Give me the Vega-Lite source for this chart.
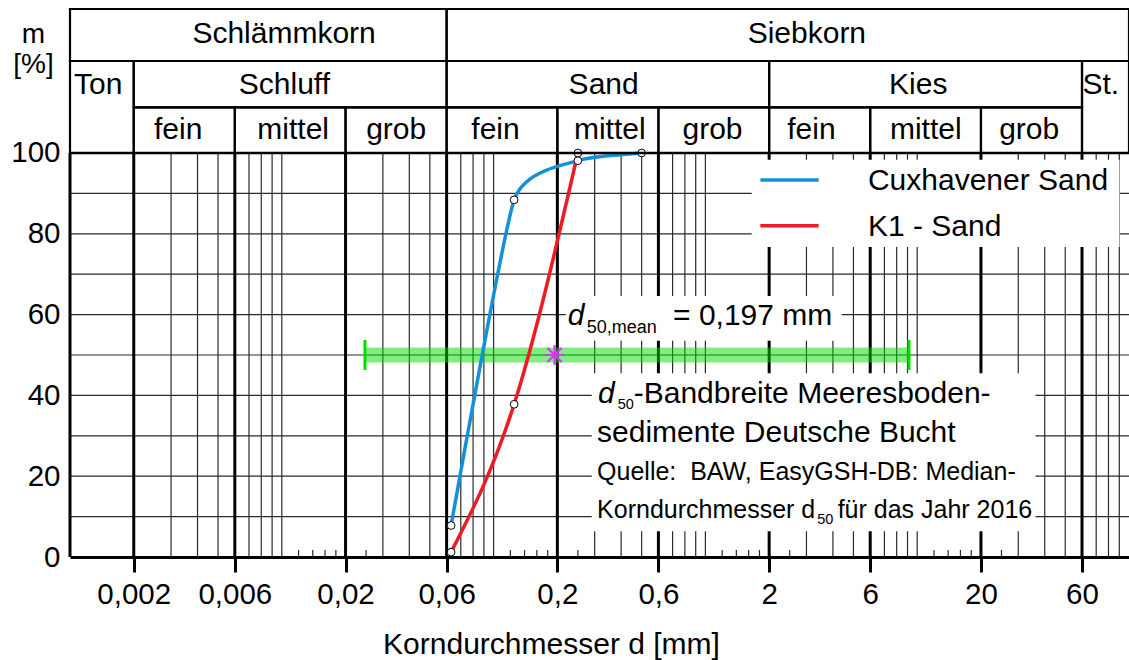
{
  "$schema": "https://vega.github.io/schema/vega-lite/v6.json",
  "width": 1059,
  "height": 548,
  "autosize": "none",
  "padding": {"left": 70, "top": 9, "right": 0, "bottom": 103},
  "background": "white",
  "config": {"view": {"stroke": null}, "font": "Liberation Sans"},
  "datasets": {
    "curves": [
      {"series": "Cuxhavener Sand", "d": 0.063, "m": 7.8},
      {"series": "Cuxhavener Sand", "d": 0.125, "m": 88.4},
      {"series": "Cuxhavener Sand", "d": 0.25, "m": 98.1},
      {"series": "Cuxhavener Sand", "d": 0.5, "m": 100},
      {"series": "K1 - Sand", "d": 0.063, "m": 1.2},
      {"series": "K1 - Sand", "d": 0.125, "m": 37.8},
      {"series": "K1 - Sand", "d": 0.25, "m": 100}
    ],
    "hgrid": [{"m": 10}, {"m": 20}, {"m": 30}, {"m": 40}, {"m": 50}, {"m": 60}, {"m": 70}, {"m": 80}, {"m": 90}],
    "vminor": [
      {"d": 0.003}, {"d": 0.004}, {"d": 0.005}, {"d": 0.007}, {"d": 0.008}, {"d": 0.009}, {"d": 0.01},
      {"d": 0.03}, {"d": 0.04}, {"d": 0.05}, {"d": 0.07}, {"d": 0.08}, {"d": 0.09}, {"d": 0.1},
      {"d": 0.3}, {"d": 0.4}, {"d": 0.5}, {"d": 0.7}, {"d": 0.8}, {"d": 0.9}, {"d": 1},
      {"d": 3}, {"d": 4}, {"d": 5}, {"d": 7}, {"d": 8}, {"d": 9}, {"d": 10},
      {"d": 30}, {"d": 40}, {"d": 50}, {"d": 70}, {"d": 80}, {"d": 90}
    ],
    "vshort": [
      {"d": 0.012}, {"d": 0.014}, {"d": 0.016}, {"d": 0.018}, {"d": 0.025},
      {"d": 0.12}, {"d": 0.14}, {"d": 0.16}, {"d": 0.18}, {"d": 0.25},
      {"d": 1.2}, {"d": 1.4}, {"d": 1.6}, {"d": 1.8}, {"d": 2.5},
      {"d": 12}, {"d": 14}, {"d": 16}, {"d": 18}, {"d": 25}
    ],
    "vmajor": [
      {"d": 0.002}, {"d": 0.006}, {"d": 0.02}, {"d": 0.06}, {"d": 0.2},
      {"d": 0.6}, {"d": 2}, {"d": 6}, {"d": 20}, {"d": 60}
    ],
    "boxes": [
      {"dLo": 1.654, "dHi": 90.2, "mLo": 76.7, "mHi": 98.3},
      {"dLo": 0.2191, "dHi": 4.398, "mLo": 53.5, "mHi": 64.6},
      {"dLo": 0.2907, "dHi": 36.2, "mLo": 6.4, "mHi": 45.5}
    ],
    "band": [{"lo": 0.0247, "hi": 9.15, "mean": 0.194, "m": 50}],
    "headerCells": [
      {"dLo": 0.001, "dHi": 0.06, "mLo": 122.77, "mHi": 135.64},
      {"dLo": 0.06, "dHi": 100, "mLo": 122.77, "mHi": 135.64},
      {"dLo": 0.001, "dHi": 0.002, "mLo": 100, "mHi": 122.77},
      {"dLo": 0.002, "dHi": 0.06, "mLo": 111.31, "mHi": 122.77},
      {"dLo": 0.06, "dHi": 2, "mLo": 111.31, "mHi": 122.77},
      {"dLo": 2, "dHi": 60, "mLo": 111.31, "mHi": 122.77},
      {"dLo": 60, "dHi": 100, "mLo": 100, "mHi": 122.77},
      {"dLo": 0.002, "dHi": 0.006, "mLo": 100, "mHi": 111.31},
      {"dLo": 0.006, "dHi": 0.02, "mLo": 100, "mHi": 111.31},
      {"dLo": 0.02, "dHi": 0.06, "mLo": 100, "mHi": 111.31},
      {"dLo": 0.06, "dHi": 0.2, "mLo": 100, "mHi": 111.31},
      {"dLo": 0.2, "dHi": 0.6, "mLo": 100, "mHi": 111.31},
      {"dLo": 0.6, "dHi": 2, "mLo": 100, "mHi": 111.31},
      {"dLo": 2, "dHi": 6, "mLo": 100, "mHi": 111.31},
      {"dLo": 6, "dHi": 20, "mLo": 100, "mHi": 111.31},
      {"dLo": 20, "dHi": 60, "mLo": 100, "mHi": 111.31}
    ],
    "headerLabels": [
      {"label": "Schlämmkorn", "d": 0.010253, "m": 127.15},
      {"label": "Siebkorn", "d": 3.013, "m": 127.15},
      {"label": "Ton", "d": 0.00136, "m": 114.6},
      {"label": "Schluff", "d": 0.010287, "m": 114.6},
      {"label": "Sand", "d": 0.33081, "m": 114.6},
      {"label": "Kies", "d": 10.109, "m": 114.6},
      {"label": "St.", "d": 73.54, "m": 114.6},
      {"label": "fein", "d": 0.00324, "m": 103.39},
      {"label": "mittel", "d": 0.011319, "m": 103.39},
      {"label": "grob", "d": 0.034663, "m": 103.39},
      {"label": "fein", "d": 0.10209, "m": 103.39},
      {"label": "mittel", "d": 0.35355, "m": 103.39},
      {"label": "grob", "d": 1.0802, "m": 103.39},
      {"label": "fein", "d": 3.1674, "m": 103.39},
      {"label": "mittel", "d": 10.98, "m": 103.39},
      {"label": "grob", "d": 33.78, "m": 103.39}
    ],
    "legendRows": [
      {"series": "Cuxhavener Sand", "a": 1.818, "b": 3.425, "t": 5.852, "m": 93.32, "mt": 90.77},
      {"series": "K1 - Sand", "a": 1.818, "b": 3.425, "t": 5.852, "m": 82.0, "mt": 79.46}
    ],
    "annItalic": [
      {"text": "d", "d": 0.224, "m": 57.43},
      {"text": "d", "d": 0.3113, "m": 38.04}
    ],
    "annSubBig": [
      {"text": "50,mean", "d": 0.2753, "m": 55.37}
    ],
    "annSubSmall": [
      {"text": "50", "d": 0.3856, "m": 36.56},
      {"text": "50", "d": 3.37, "m": 8.09}
    ],
    "annBig": [
      {"text": "= 0,197 mm", "d": 0.7034, "m": 57.43},
      {"text": "-Bandbreite Meeresboden-", "d": 0.4587, "m": 38.04},
      {"text": "sedimente Deutsche Bucht", "d": 0.308, "m": 28.54}
    ],
    "annSmall": [
      {"text": "Quelle:\u00a0 BAW, EasyGSH-DB: Median-", "d": 0.308, "m": 19.06},
      {"text": "Korndurchmesser d", "d": 0.308, "m": 9.58},
      {"text": "für das Jahr 2016", "d": 4.2112, "m": 9.58}
    ]
  },
  "layer": [
    {
      "data": {"name": "vminor"},
      "mark": {"type": "rule", "color": "#2a2a2a", "strokeWidth": 1.2},
      "encoding": {
        "x": {
          "field": "d", "type": "quantitative",
          "scale": {"type": "log", "domain": [0.001, 100], "nice": false},
          "axis": {
            "values": [0.002, 0.006, 0.02, 0.06, 0.2, 0.6, 2, 6, 20, 60],
            "labelExpr": "replace(toString(datum.value), '.', ',')",
            "grid": false, "domain": true, "domainColor": "black", "domainWidth": 3,
            "ticks": true, "tickSize": 15, "tickWidth": 3, "tickColor": "black",
            "labelFont": "Liberation Sans", "labelFontSize": 29.5, "labelColor": "black",
            "labelPadding": 8, "labelFlush": false, "labelOverlap": false,
            "title": "Korndurchmesser d [mm]", "titleFont": "Liberation Sans", "titleFontSize": 30,
            "titleFontWeight": "normal", "titleColor": "black", "titleX": 481, "titleY": 96,
            "titleAlign": "center", "titleBaseline": "alphabetic", "zindex": 1
          }
        },
        "y": {
          "datum": 0, "type": "quantitative",
          "scale": {"domain": [0, 135.64], "nice": false, "zero": false},
          "axis": {
            "values": [0, 20, 40, 60, 80, 100], "grid": false, "domain": false, "ticks": false, "tickSize": 0,
            "labelFont": "Liberation Sans", "labelFontSize": 29.5, "labelColor": "black", "labelPadding": 10,
            "title": ["m", "[%]"], "titleAngle": 0, "titleX": -37, "titleY": 33, "titleAlign": "center",
            "titleBaseline": "alphabetic", "titleFont": "Liberation Sans", "titleFontSize": 28,
            "titleFontWeight": "normal", "titleColor": "black", "titleLineHeight": 30
          }
        },
        "y2": {"datum": 100}
      }
    },
    {
      "data": {"name": "hgrid"},
      "mark": {"type": "rule", "color": "#2a2a2a", "strokeWidth": 1.2},
      "encoding": {
        "y": {"field": "m", "type": "quantitative"},
        "x": {"datum": 0.001, "type": "quantitative"},
        "x2": {"datum": 100}
      }
    },
    {
      "data": {"name": "vshort"},
      "mark": {"type": "rule", "color": "#2a2a2a", "strokeWidth": 1.2},
      "encoding": {
        "x": {"field": "d", "type": "quantitative"},
        "y": {"datum": 0, "type": "quantitative"},
        "y2": {"datum": 1.75}
      }
    },
    {
      "data": {"name": "vmajor"},
      "mark": {"type": "rule", "color": "black", "strokeWidth": 3},
      "encoding": {
        "x": {"field": "d", "type": "quantitative"},
        "y": {"datum": 0, "type": "quantitative"},
        "y2": {"datum": 100}
      }
    },
    {
      "data": {"name": "boxes"},
      "mark": {"type": "rect", "fill": "white", "strokeWidth": 0},
      "encoding": {
        "x": {"field": "dLo", "type": "quantitative"},
        "x2": {"field": "dHi"},
        "y": {"field": "mLo", "type": "quantitative"},
        "y2": {"field": "mHi"}
      }
    },
    {
      "data": {"name": "band"},
      "mark": {"type": "rule", "color": "#00dd00", "opacity": 0.5, "strokeWidth": 15, "strokeCap": "butt"},
      "encoding": {
        "x": {"field": "lo", "type": "quantitative"},
        "x2": {"field": "hi"},
        "y": {"field": "m", "type": "quantitative"}
      }
    },
    {
      "data": {"name": "band"},
      "mark": {"type": "tick", "orient": "vertical", "size": 30, "thickness": 3, "color": "#00dd00", "opacity": 1},
      "encoding": {
        "x": {"field": "lo", "type": "quantitative"},
        "y": {"field": "m", "type": "quantitative"}
      }
    },
    {
      "data": {"name": "band"},
      "mark": {"type": "tick", "orient": "vertical", "size": 30, "thickness": 3, "color": "#00dd00", "opacity": 1},
      "encoding": {
        "x": {"field": "hi", "type": "quantitative"},
        "y": {"field": "m", "type": "quantitative"}
      }
    },
    {
      "data": {"name": "curves"},
      "transform": [{"filter": "datum.series === 'K1 - Sand'"}],
      "mark": {"type": "line", "interpolate": "monotone", "strokeWidth": 3.5},
      "encoding": {
        "x": {"field": "d", "type": "quantitative"},
        "y": {"field": "m", "type": "quantitative"},
        "color": {"field": "series", "type": "nominal", "scale": {"domain": ["Cuxhavener Sand", "K1 - Sand"], "range": ["#1590d8", "#ec1c24"]}, "legend": null},
        "order": {"field": "d", "type": "quantitative"}
      }
    },
    {
      "data": {"name": "curves"},
      "transform": [{"filter": "datum.series === 'Cuxhavener Sand'"}],
      "mark": {"type": "line", "interpolate": "cardinal", "tension": 0.5, "strokeWidth": 3.5},
      "encoding": {
        "x": {"field": "d", "type": "quantitative"},
        "y": {"field": "m", "type": "quantitative"},
        "color": {"field": "series", "type": "nominal", "legend": null},
        "order": {"field": "d", "type": "quantitative"}
      }
    },
    {
      "data": {"name": "curves"},
      "mark": {"type": "point", "shape": "circle", "filled": true, "fill": "white", "stroke": "black", "strokeWidth": 1, "size": 60, "opacity": 1},
      "encoding": {
        "x": {"field": "d", "type": "quantitative"},
        "y": {"field": "m", "type": "quantitative"}
      }
    },
    {
      "data": {"name": "band"},
      "mark": {"type": "point", "shape": "M0,-1L0,1M-1,0L1,0M-0.7071,-0.7071L0.7071,0.7071M-0.7071,0.7071L0.7071,-0.7071", "size": 400, "filled": false, "color": "#cf3cf2", "strokeWidth": 2.2, "opacity": 1},
      "encoding": {
        "x": {"field": "mean", "type": "quantitative"},
        "y": {"field": "m", "type": "quantitative"}
      }
    },
    {
      "data": {"name": "annItalic"},
      "mark": {"type": "text", "align": "left", "baseline": "alphabetic", "font": "Liberation Sans", "fontSize": 30, "fontStyle": "italic", "color": "black"},
      "encoding": {
        "x": {"field": "d", "type": "quantitative"},
        "y": {"field": "m", "type": "quantitative"},
        "text": {"field": "text"}
      }
    },
    {
      "data": {"name": "annSubBig"},
      "mark": {"type": "text", "align": "left", "baseline": "alphabetic", "font": "Liberation Sans", "fontSize": 18, "color": "black"},
      "encoding": {
        "x": {"field": "d", "type": "quantitative"},
        "y": {"field": "m", "type": "quantitative"},
        "text": {"field": "text"}
      }
    },
    {
      "data": {"name": "annSubSmall"},
      "mark": {"type": "text", "align": "left", "baseline": "alphabetic", "font": "Liberation Sans", "fontSize": 14.5, "color": "black"},
      "encoding": {
        "x": {"field": "d", "type": "quantitative"},
        "y": {"field": "m", "type": "quantitative"},
        "text": {"field": "text"}
      }
    },
    {
      "data": {"name": "annBig"},
      "mark": {"type": "text", "align": "left", "baseline": "alphabetic", "font": "Liberation Sans", "fontSize": 30, "color": "black"},
      "encoding": {
        "x": {"field": "d", "type": "quantitative"},
        "y": {"field": "m", "type": "quantitative"},
        "text": {"field": "text"}
      }
    },
    {
      "data": {"name": "annSmall"},
      "mark": {"type": "text", "align": "left", "baseline": "alphabetic", "font": "Liberation Sans", "fontSize": 25, "color": "black"},
      "encoding": {
        "x": {"field": "d", "type": "quantitative"},
        "y": {"field": "m", "type": "quantitative"},
        "text": {"field": "text"}
      }
    },
    {
      "data": {"name": "headerCells"},
      "mark": {"type": "rect", "fill": "white", "fillOpacity": 0, "stroke": "black", "strokeWidth": 2.2},
      "encoding": {
        "x": {"field": "dLo", "type": "quantitative"},
        "x2": {"field": "dHi"},
        "y": {"field": "mLo", "type": "quantitative"},
        "y2": {"field": "mHi"}
      }
    },
    {
      "data": {"name": "headerLabels"},
      "mark": {"type": "text", "align": "center", "baseline": "alphabetic", "font": "Liberation Sans", "fontSize": 30, "color": "black"},
      "encoding": {
        "x": {"field": "d", "type": "quantitative"},
        "y": {"field": "m", "type": "quantitative"},
        "text": {"field": "label"}
      }
    },
    {
      "data": {"name": "legendRows"},
      "mark": {"type": "rule", "strokeWidth": 3.5},
      "encoding": {
        "x": {"field": "a", "type": "quantitative"},
        "x2": {"field": "b"},
        "y": {"field": "m", "type": "quantitative"},
        "color": {"field": "series", "type": "nominal", "legend": null}
      }
    },
    {
      "data": {"name": "legendRows"},
      "mark": {"type": "text", "align": "left", "baseline": "alphabetic", "font": "Liberation Sans", "fontSize": 30, "color": "black"},
      "encoding": {
        "x": {"field": "t", "type": "quantitative"},
        "y": {"field": "mt", "type": "quantitative"},
        "text": {"field": "series"}
      }
    },
    {
      "data": {"values": [{}]},
      "mark": {"type": "rule", "color": "black", "strokeWidth": 3},
      "encoding": {
        "x": {"datum": 0.001, "type": "quantitative"},
        "y": {"datum": 0, "type": "quantitative"},
        "y2": {"datum": 100}
      }
    },
    {
      "data": {"values": [{}]},
      "mark": {"type": "rule", "color": "black", "strokeWidth": 2.5},
      "encoding": {
        "y": {"datum": 100, "type": "quantitative"},
        "x": {"datum": 0.001, "type": "quantitative"},
        "x2": {"datum": 100}
      }
    }
  ]
}
